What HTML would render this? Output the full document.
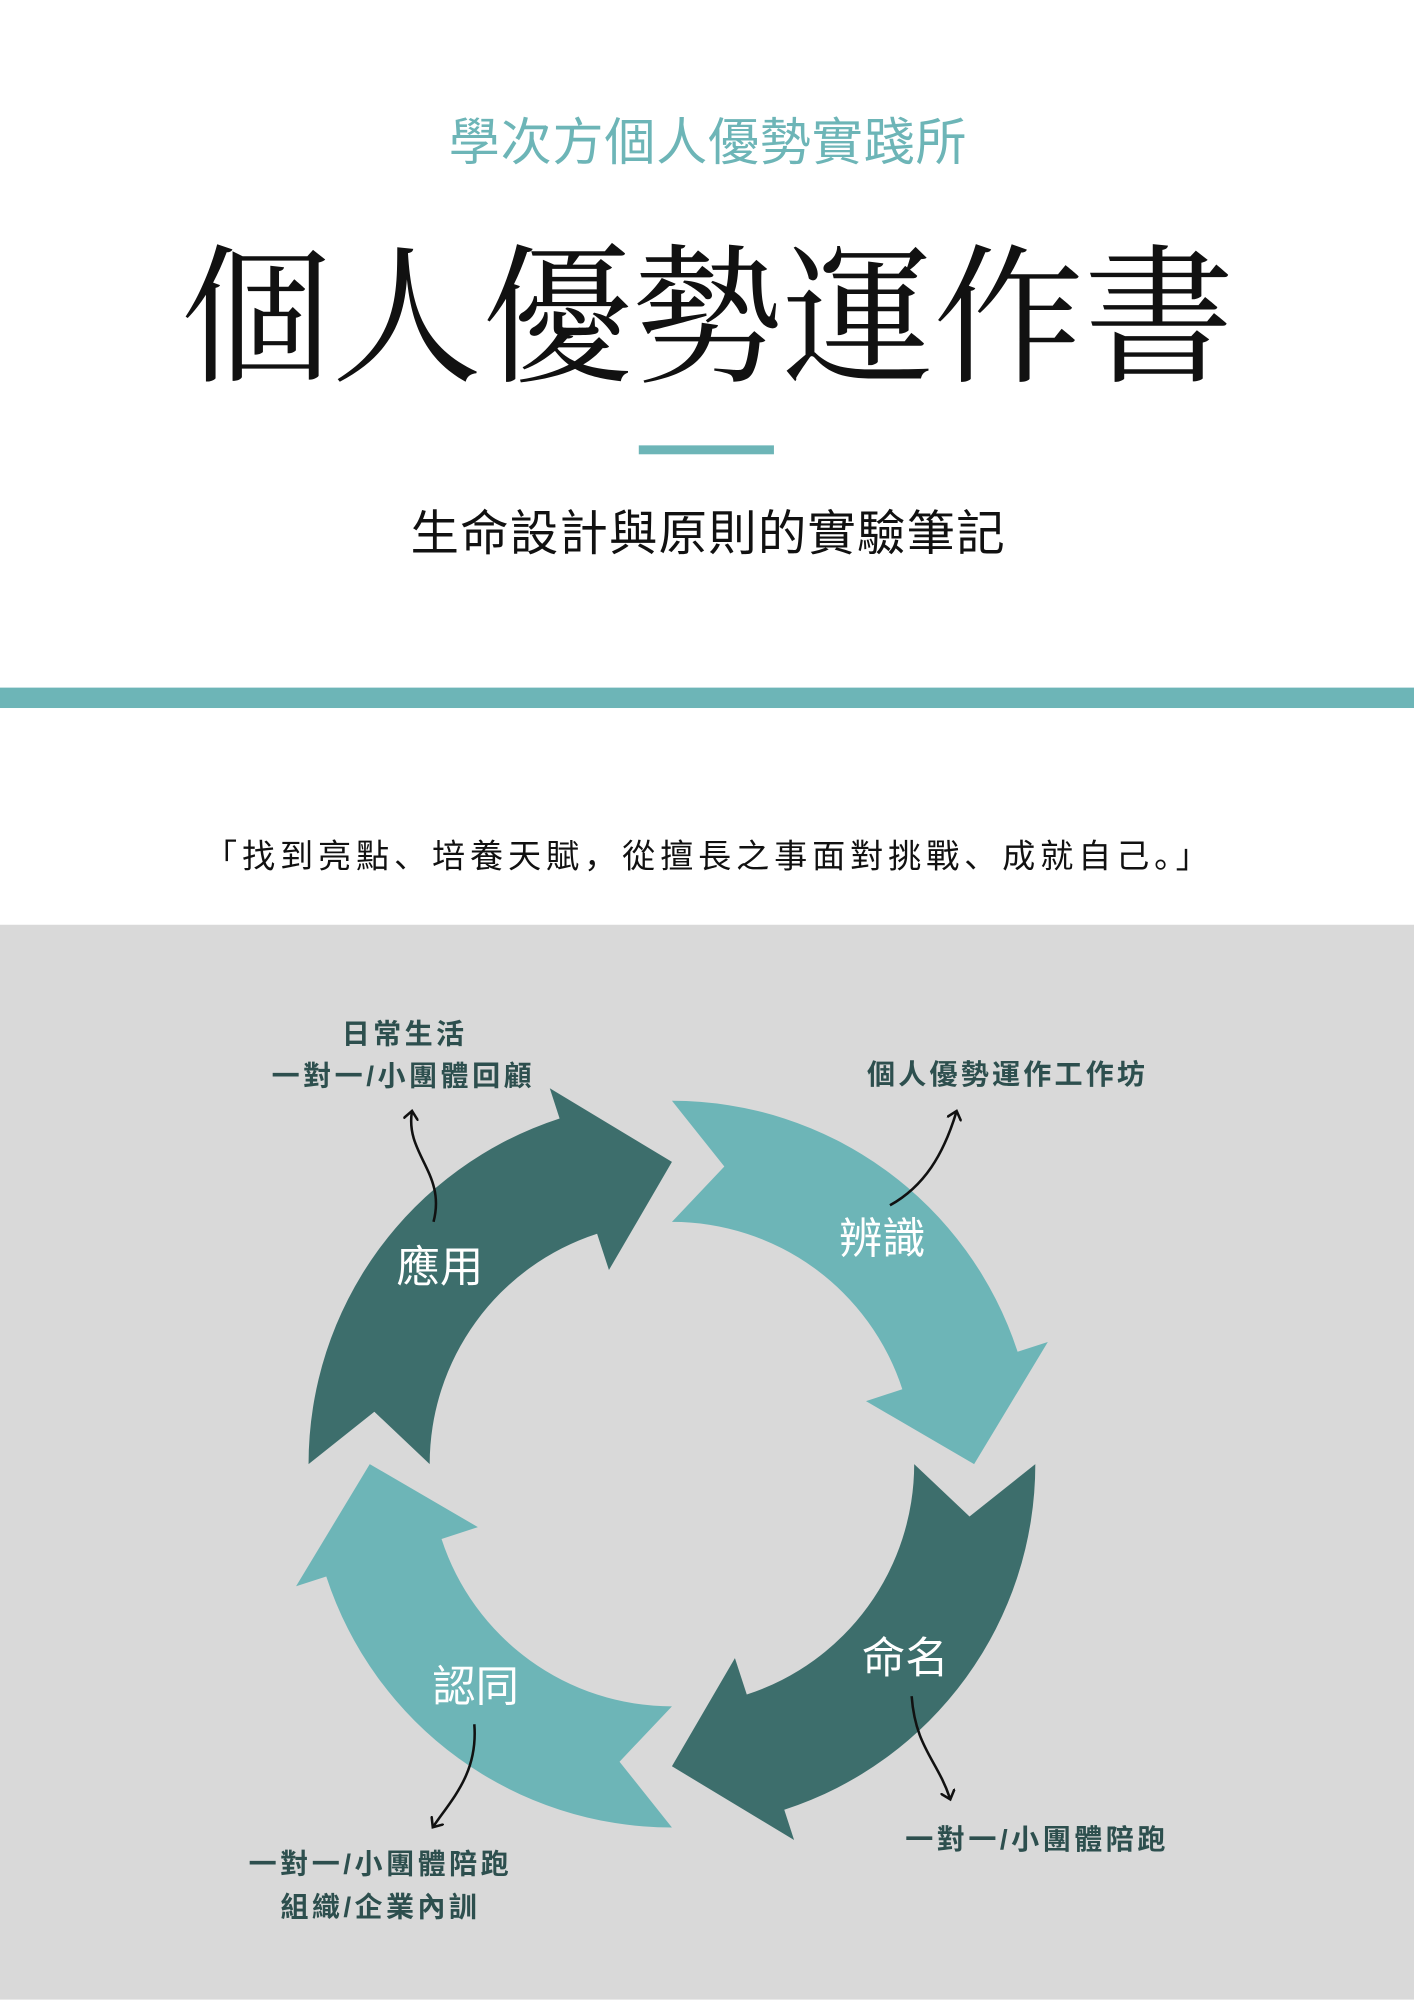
<!DOCTYPE html>
<html><head><meta charset="utf-8"><style>
html,body{margin:0;padding:0;background:#fff;}
svg{display:block;}
</style></head><body>
<svg width="1414" height="2000" viewBox="0 0 1109 1568" xmlns="http://www.w3.org/2000/svg">
<defs>
<marker id="ah" markerWidth="12" markerHeight="12" refX="6" refY="6" orient="auto" markerUnits="userSpaceOnUse">
<path d="M0,0 L7,6 L0,12" fill="none" stroke="#111" stroke-width="2"/>
</marker>
</defs>
<rect x="0" y="0" width="1109" height="1568" fill="#fff"/>
<text x="555" y="125" text-anchor="middle" textLength="406" lengthAdjust="spacing" font-family="'Liberation Sans','Noto Sans CJK SC',sans-serif" font-size="40" fill="#6db5b7">學次方個人優勢實踐所</text>
<text x="555" y="290" text-anchor="middle" font-family="'Noto Serif CJK SC',serif" font-size="118" fill="#111">個人優勢運作書</text>
<rect x="501" y="349" width="106" height="7" fill="#6db5b7"/>
<text x="555" y="431" text-anchor="middle" textLength="466" lengthAdjust="spacing" font-family="'Liberation Sans','Noto Sans CJK SC',sans-serif" font-size="38" fill="#111">生命設計與原則的實驗筆記</text>
<rect x="0" y="539" width="1109" height="16" fill="#6db5b7"/>
<text x="554" y="680" text-anchor="middle" textLength="788" lengthAdjust="spacing" font-family="'Liberation Sans','Noto Sans CJK SC',sans-serif" font-size="26" fill="#111">「找到亮點、培養天賦，從擅長之事面對挑戰、成就自己。」</text>
<rect x="0" y="725" width="1109" height="843" fill="#d9d9d9"/>

<path d="M242,1148 A285,285 0 0 1 438.9,876.9 L431.2,853.2 L527,911 L477.6,995.8 L468.3,967.3 A190,190 0 0 0 337,1148 L293.6,1106.9 Z" fill="#3d6e6c"/>
<path d="M527,863 A285,285 0 0 1 798.1,1059.9 L821.8,1052.2 L764,1148 L679.2,1098.6 L707.7,1089.3 A190,190 0 0 0 527,958 L568.1,914.6 Z" fill="#6db5b7"/>
<path d="M812,1148 A285,285 0 0 1 615.1,1419.1 L622.8,1442.8 L527,1385 L576.4,1300.2 L585.7,1328.7 A190,190 0 0 0 717,1148 L760.4,1189.1 Z" fill="#3d6e6c"/>
<path d="M527,1433 A285,285 0 0 1 255.9,1236.1 L232.2,1243.8 L290,1148 L374.8,1197.4 L346.3,1206.7 A190,190 0 0 0 527,1338 L485.9,1381.4 Z" fill="#6db5b7"/>

<g font-family="'Liberation Sans','Noto Sans CJK SC',sans-serif" font-size="34" fill="#fff" text-anchor="middle">
<text x="345" y="1005">應用</text>
<text x="692" y="983">辨識</text>
<text x="710" y="1312">命名</text>
<text x="373" y="1334">認同</text>
</g>

<g font-family="'Liberation Sans','Noto Sans CJK SC',sans-serif" font-size="22" font-weight="bold" fill="#2d4f4e" text-anchor="middle" lengthAdjust="spacing">
<text x="316" y="818" textLength="96" lengthAdjust="spacing">日常生活</text>
<text x="315" y="851" textLength="204" lengthAdjust="spacing">一對一/小團體回顧</text>
<text x="789" y="850" textLength="218" lengthAdjust="spacing">個人優勢運作工作坊</text>
<text x="812" y="1450" textLength="204" lengthAdjust="spacing">一對一/小團體陪跑</text>
<text x="297" y="1469" textLength="204" lengthAdjust="spacing">一對一/小團體陪跑</text>
<text x="297" y="1503" textLength="154" lengthAdjust="spacing">組織/企業內訓</text>
</g>

<g fill="none" stroke="#111" stroke-width="2">
<path d="M340,958 C350,920 318,905 323,872" marker-end="url(#ah)"/>
<path d="M698,945 C725,930 740,905 750,872" marker-end="url(#ah)"/>
<path d="M715,1330 C718,1370 735,1380 745,1410" marker-end="url(#ah)"/>
<path d="M372,1352 C375,1390 355,1410 340,1432" marker-end="url(#ah)"/>
</g>
</svg>
</body></html>
